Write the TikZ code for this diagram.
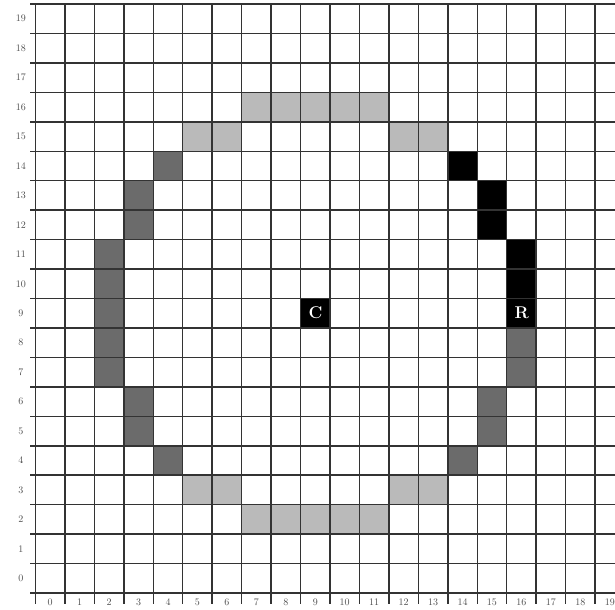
\documentclass[tikz,border=0pt]{standalone}
\begin{document}
\begin{tikzpicture}[x=29.45pt,y=29.45pt,
  gridline/.style={line width=1.5pt,draw=black!80},
  lightcell/.style={fill=black!27},
  darkcell/.style={fill=black!58},
  blackcell/.style={fill=black},
  axislabel/.style={font=\fontsize{10}{11}\selectfont,text=black!70,inner sep=0pt},
  marker/.style={font=\fontsize{17}{18}\selectfont\bfseries,text=white,inner sep=0pt}]
\useasboundingbox (-1.205,-0.543) rectangle (19.677,20.136);
\clip (-1.205,-0.543) rectangle (19.677,20.136);
% light gray cells
\foreach \c/\r in {7/16,8/16,9/16,10/16,11/16,5/15,6/15,12/15,13/15,
                   5/3,6/3,12/3,13/3,7/2,8/2,9/2,10/2,11/2}
  \fill[lightcell] (\c,\r) rectangle ++(1,1);
% dark gray cells
\foreach \c/\r in {4/14,3/13,3/12,2/11,2/10,2/9,2/8,2/7,3/6,3/5,4/4,
                   14/4,15/5,15/6,16/7,16/8}
  \fill[darkcell] (\c,\r) rectangle ++(1,1);
% black cells
\foreach \c/\r in {14/14,15/13,15/12,16/11,16/10}
  \fill[blackcell] (\c,\r) rectangle ++(1,1);
\node[blackcell,minimum size=29.45pt,inner sep=0pt,anchor=south west] (ccell) at (9,9) {};
\node[marker] (C) at (ccell.center) {C};
\node[blackcell,minimum size=29.45pt,inner sep=0pt,anchor=south west] (rcell) at (16,9) {};
\node[marker] (R) at (rcell.center) {R};
% grid
\foreach \i in {0,...,20} {
  \draw[gridline] (-0.17,\i) -- (20.5,\i);
  \draw[gridline] (\i,-0.36) -- (\i,20);
}
% labels
\foreach \i in {0,...,19} {
  \node[axislabel] (col\i) at (\i+0.5,-0.3) {\i};
  \node[axislabel] (row\i) at (-0.5,\i+0.5) {\i};
}
\end{tikzpicture}
\end{document}
